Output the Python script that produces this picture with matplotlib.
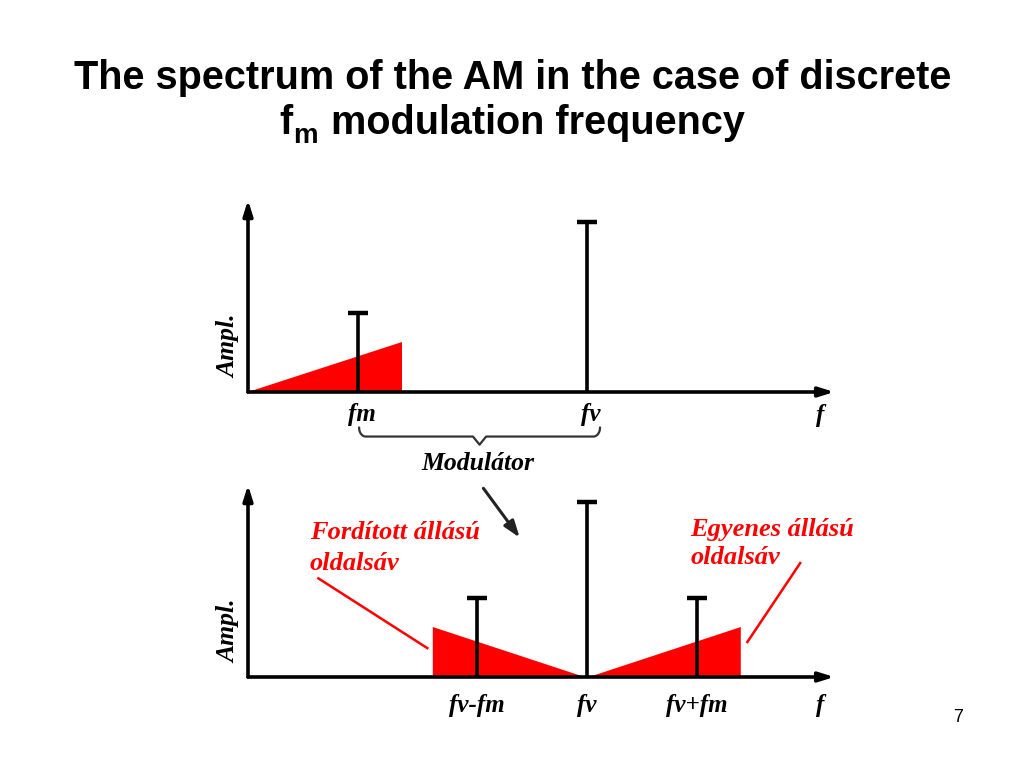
import matplotlib
matplotlib.use("Agg")
import matplotlib.pyplot as plt
import numpy as np

# ---- data (arbitrary frequency / amplitude units) ----
f_m = 1.0            # modulation frequency
f_v = 3.08           # carrier frequency
band_width = 1.4     # width of the modulating band
band_height = 0.294  # amplitude of the band edge

top_freqs = [f_m, f_v]
top_amps = [0.465, 1.0]
top_labels = ["fm", "fv"]

bottom_freqs = [f_v - f_m, f_v, f_v + f_m]
bottom_amps = [0.465, 1.03, 0.465]
bottom_labels = ["fv-fm", "fv", "fv+fm"]

RED = "#ff0000"
SERIF = ["Liberation Serif", "DejaVu Serif"]
SANS = ["Liberation Sans", "DejaVu Sans"]

fig = plt.figure(figsize=(10.24, 7.68), dpi=100)
fig.patch.set_facecolor("white")

# ---- title ----
fig.text(513 / 1024, 1 - 89 / 768, "The spectrum of the AM in the case of discrete",
         ha="center", va="baseline", fontsize=28.5, fontweight="bold", family=SANS)
t_f = fig.text(279 / 1024, 1 - 134 / 768, "f", ha="left", va="baseline",
               fontsize=28.5, fontweight="bold", family=SANS)
t_m = fig.text(0, 0, "m", ha="left", va="baseline", fontsize=20, fontweight="bold",
               family=SANS)
fig.canvas.draw()
r = fig.canvas.get_renderer()
bb = t_f.get_window_extent(r)
t_m.set_position(((bb.x1 + 1) / 1024, 1 - 143 / 768))
bbm = t_m.get_window_extent(r)
fig.text((bbm.x1 + 2) / 1024, 1 - 134 / 768, " modulation frequency", ha="left",
         va="baseline", fontsize=28.5, fontweight="bold", family=SANS)
fig.text(958 / 1024, 1 - 718 / 768, "7", ha="center", va="center", fontsize=13, family=SANS)

PX_X = 110.0   # pixels per frequency unit
PX_Y = 170.0   # pixels per amplitude unit


def make_axes(top_px, bottom_px, base_px, x0_px=248):
    ax = fig.add_axes([200 / 1024, 1 - bottom_px / 768, 660 / 1024, (bottom_px - top_px) / 768])
    ax.set_xlim((200 - x0_px) / PX_X, (860 - x0_px) / PX_X)
    ax.set_ylim((base_px - bottom_px) / PX_Y, (base_px - top_px) / PX_Y)
    ax.axis("off")
    return ax


def draw_axes_arrows(ax):
    ap = dict(arrowstyle="-|>,head_length=0.9,head_width=0.28", lw=2.6, color="black",
              shrinkA=0, shrinkB=0)
    ax.annotate("", xy=(0, 1.13), xytext=(0, 0), arrowprops=ap, zorder=5)
    ax.annotate("", xy=(5.33, 0), xytext=(0, 0), arrowprops=ap, zorder=5)
    ax.text(-0.17, 0.27, "Ampl.", rotation=90, ha="center", va="center",
            fontsize=18.5, fontweight="bold", style="italic", family=SERIF)


def draw_lines(ax, freqs, amps):
    ax.vlines(freqs, 0, amps, colors="black", lw=2.6, zorder=4)
    ax.plot(freqs, amps, ls="none", marker="_", ms=15, mew=3.2, color="black", zorder=4)


# ---- top panel: modulating signal + carrier ----
ax1 = make_axes(180, 480, 392)
ax1.fill([0, band_width, band_width], [0, 0, band_height], color=RED, lw=0, zorder=2)
draw_lines(ax1, top_freqs, top_amps)
draw_axes_arrows(ax1)
for fx, lab in zip(top_freqs, top_labels):
    ax1.text(fx + 0.04, -0.13, lab, ha="center", va="center", fontsize=18,
             fontweight="bold", style="italic", family=SERIF)
ax1.text(5.2, -0.14, "f", ha="center", va="center", fontsize=18,
         fontweight="bold", style="italic", family=SERIF)

# brace under fm ... fv
xl, xr = f_m + 0.01, f_v + 0.12
xm = (xl + xr) / 2
yb0, yb1, yb2 = -0.21, -0.262, -0.31
t = np.linspace(0, np.pi / 2, 12)
left_hook_x = xl + 0.06 * (1 - np.cos(t))
left_hook_y = yb0 + (yb1 - yb0) * np.sin(t)
right_hook_x = xr - 0.06 * (1 - np.cos(t))
bx = np.concatenate([left_hook_x, [xm - 0.06, xm, xm + 0.06], right_hook_x[::-1]])
by = np.concatenate([left_hook_y, [yb1, yb2, yb1], left_hook_y[::-1]])
ax1.plot(bx, by, color="#333333", lw=1.6)
ax1.text(xm - 0.02, -0.42, "Modulátor", ha="center", va="center", fontsize=18.5,
         fontweight="bold", style="italic", family=SERIF)

# ---- bottom panel: AM spectrum ----
ax2 = make_axes(470, 760, 677)
gap = 0.02
ax2.fill([f_v - band_width, f_v - band_width, f_v - gap], [0, band_height, 0],
         color=RED, lw=0, zorder=2)
ax2.fill([f_v + gap, f_v + band_width, f_v + band_width], [0, band_height, 0],
         color=RED, lw=0, zorder=2)
draw_lines(ax2, bottom_freqs, bottom_amps)
draw_axes_arrows(ax2)
for fx, lab in zip(bottom_freqs, bottom_labels):
    ax2.text(fx + 0.0, -0.17, lab, ha="center", va="center", fontsize=18,
             fontweight="bold", style="italic", family=SERIF)
ax2.text(5.2, -0.17, "f", ha="center", va="center", fontsize=18,
         fontweight="bold", style="italic", family=SERIF)

# arrow from "Modulátor"
ax2.annotate("", xy=(2.47, 0.82), xytext=(2.14, 1.11),
             arrowprops=dict(arrowstyle="-|>,head_length=1.0,head_width=0.35", lw=2.2,
                             color="#222222", shrinkA=0, shrinkB=0))

# red annotations
ax2.text(0.56, 0.85, "Fordított állású", ha="left", va="center", fontsize=19,
         fontweight="bold", style="italic", family=SERIF, color=RED)
ax2.text(0.56, 0.67, "oldalsáv", ha="left", va="center", fontsize=19,
         fontweight="bold", style="italic", family=SERIF, color=RED)
ax2.plot([0.64, 1.63], [0.58, 0.17], color=RED, lw=1.8)

ax2.text(4.02, 0.865, "Egyenes állású", ha="left", va="center", fontsize=19,
         fontweight="bold", style="italic", family=SERIF, color=RED)
ax2.text(4.02, 0.70, "oldalsáv", ha="left", va="center", fontsize=19,
         fontweight="bold", style="italic", family=SERIF, color=RED)
ax2.plot([5.02, 4.54], [0.67, 0.206], color=RED, lw=1.8)

fig.savefig("out.png", dpi=100, facecolor="white")
